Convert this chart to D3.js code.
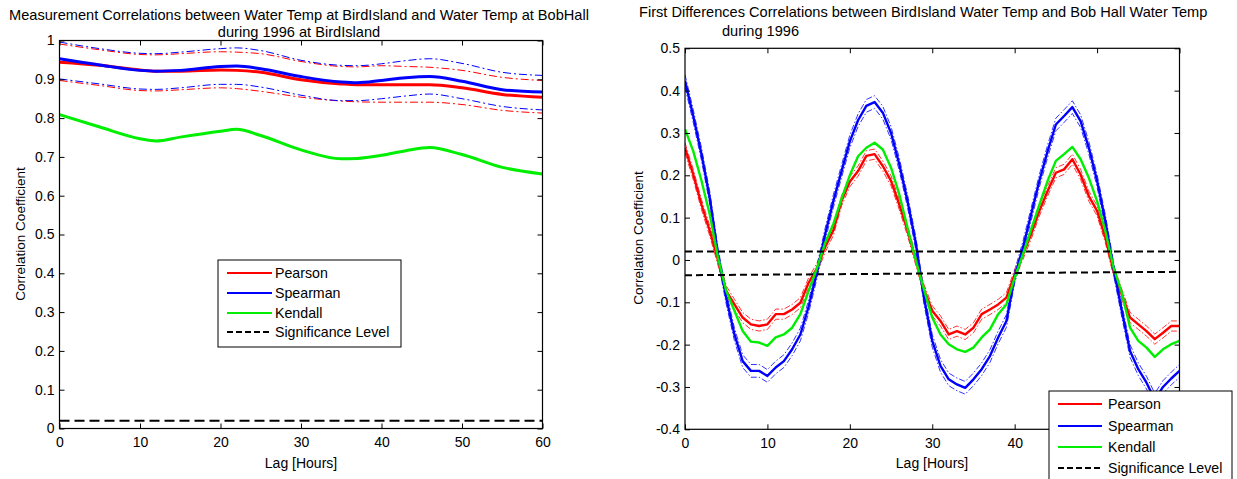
<!DOCTYPE html>
<html lang="en">
<head>
  <meta charset="UTF-8">
  <title>Water Temp Correlations</title>
  <script src="https://cdn.jsdelivr.net/npm/d3@7"></script>
  <style>
    body { margin: 0; background: #fff; }
    svg { display: block; font-family: "Liberation Sans", Arial, sans-serif; }
    .tick text { font-size: 14px; fill: #000; }
  </style>
</head>
<body>
<script>
  // ---- left panel: measurement correlations (smooth curves) ----
  const lagsL = [0, 5, 10, 12, 15, 20, 22, 25, 30, 35, 37, 40, 43, 46, 50, 55, 60];
  const pearsonL   = [0.944, 0.936, 0.924, 0.921, 0.921, 0.924, 0.923, 0.918, 0.899, 0.888, 0.886, 0.886, 0.886, 0.886, 0.878, 0.861, 0.854];
  const spearmanL  = [0.953, 0.937, 0.923, 0.921, 0.923, 0.933, 0.934, 0.927, 0.907, 0.893, 0.891, 0.897, 0.904, 0.907, 0.895, 0.873, 0.867];
  const kendallL   = [0.809, 0.777, 0.747, 0.741, 0.751, 0.766, 0.771, 0.755, 0.718, 0.695, 0.696, 0.704, 0.716, 0.724, 0.706, 0.673, 0.656];
  const pearsonUpL = [0.991, 0.976, 0.964, 0.963, 0.966, 0.971, 0.970, 0.966, 0.946, 0.933, 0.932, 0.935, 0.933, 0.931, 0.923, 0.905, 0.897];
  const pearsonLoL = [0.897, 0.884, 0.871, 0.870, 0.873, 0.878, 0.876, 0.869, 0.854, 0.844, 0.842, 0.841, 0.841, 0.841, 0.835, 0.820, 0.813];
  const spearmanUpL = [0.996, 0.979, 0.967, 0.966, 0.970, 0.979, 0.981, 0.974, 0.949, 0.936, 0.935, 0.940, 0.948, 0.953, 0.941, 0.918, 0.910];
  const spearmanLoL = [0.901, 0.888, 0.875, 0.874, 0.878, 0.887, 0.887, 0.880, 0.859, 0.845, 0.845, 0.850, 0.857, 0.862, 0.850, 0.830, 0.821];
  const sigLagsL = [0, 60];
  const sigL = [0.02, 0.02];

  // ---- right panel: first differences correlations (hourly) ----
  const lagsR = d3.range(0, 61);
  const pearsonR = [0.265, 0.202, 0.131, 0.069, 0.000, -0.073, -0.105, -0.136, -0.152, -0.156,
    -0.152, -0.128, -0.128, -0.117, -0.101, -0.054, -0.020, 0.030, 0.070, 0.140,
    0.185, 0.210, 0.246, 0.250, 0.222, 0.187, 0.131, 0.069, 0.000, -0.070,
    -0.120, -0.144, -0.176, -0.168, -0.176, -0.160, -0.128, -0.117, -0.105, -0.089,
    -0.034, 0.013, 0.061, 0.116, 0.163, 0.206, 0.214, 0.238, 0.202, 0.151,
    0.116, 0.053, -0.026, -0.081, -0.136, -0.152, -0.168, -0.187, -0.172, -0.156, -0.156];
  const spearmanR = [0.423, 0.340, 0.250, 0.147, 0.013, -0.089, -0.176, -0.239, -0.262, -0.262,
    -0.274, -0.254, -0.239, -0.211, -0.176, -0.110, -0.030, 0.060, 0.139, 0.210,
    0.280, 0.330, 0.364, 0.373, 0.348, 0.300, 0.226, 0.139, 0.040, -0.090,
    -0.191, -0.250, -0.282, -0.294, -0.302, -0.282, -0.258, -0.227, -0.183, -0.144,
    -0.040, 0.029, 0.108, 0.187, 0.257, 0.320, 0.340, 0.361, 0.328, 0.265,
    0.187, 0.092, -0.020, -0.120, -0.215, -0.258, -0.290, -0.330, -0.300, -0.280, -0.262];
  const kendallR = [0.309, 0.257, 0.187, 0.108, 0.006, -0.073, -0.120, -0.168, -0.193, -0.195,
    -0.203, -0.183, -0.176, -0.160, -0.128, -0.073, -0.020, 0.040, 0.085, 0.145,
    0.200, 0.245, 0.265, 0.277, 0.261, 0.218, 0.155, 0.076, 0.000, -0.070,
    -0.136, -0.176, -0.199, -0.211, -0.217, -0.207, -0.183, -0.164, -0.128, -0.105,
    -0.042, 0.013, 0.072, 0.131, 0.187, 0.234, 0.250, 0.267, 0.238, 0.194,
    0.139, 0.069, -0.018, -0.077, -0.160, -0.191, -0.207, -0.229, -0.211, -0.199, -0.191];
  // half width of the thin confidence lines around pearson / spearman
  const ciHalfR = [0.012, 0.015];
  const sigLagsR = [0, 60];
  const sigUpR = [0.02, 0.02];
  const sigLoR = [-0.036, -0.028];

  const xTicks = [0, 10, 20, 30, 40, 50, 60];
  const yTicksL = [0, 0.1, 0.2, 0.3, 0.4, 0.5, 0.6, 0.7, 0.8, 0.9, 1];
  const yTicksR = [-0.4, -0.3, -0.2, -0.1, 0, 0.1, 0.2, 0.3, 0.4, 0.5];
  const legendNames = ['Pearson', 'Spearman', 'Kendall', 'Significance Level'];

  const RED = '#ff0000', BLUE = '#0000ff', GREEN = '#00ee00';
  const fmt = d => String(Number(d.toFixed(1)));

  const svg = d3.select('body').append('svg')
    .attr('width', 1237)
    .attr('height', 479);

  function drawFrame(g, x, y, yTicks) {
    const [x0, x1] = x.range();
    const [y0, y1] = y.range();
    g.append('g').attr('transform', `translate(0,${y0})`)
      .call(d3.axisBottom(x).tickValues(xTicks).tickSizeInner(-5).tickSizeOuter(0).tickPadding(9))
      .call(a => a.select('.domain').remove());
    g.append('g').attr('transform', `translate(0,${y1})`)
      .call(d3.axisTop(x).tickValues(xTicks).tickSizeInner(-5).tickSizeOuter(0).tickFormat(''))
      .call(a => a.select('.domain').remove());
    g.append('g').attr('transform', `translate(${x0},0)`)
      .call(d3.axisLeft(y).tickValues(yTicks).tickSizeInner(-5).tickSizeOuter(0).tickPadding(5).tickFormat(fmt))
      .call(a => a.select('.domain').remove());
    g.append('g').attr('transform', `translate(${x1},0)`)
      .call(d3.axisRight(y).tickValues(yTicks).tickSizeInner(-5).tickSizeOuter(0).tickFormat(''))
      .call(a => a.select('.domain').remove());
    g.selectAll('.tick line').attr('stroke', '#000');
    g.append('rect')
      .attr('x', x0).attr('y', y1)
      .attr('width', x1 - x0).attr('height', y0 - y1)
      .attr('fill', 'none').attr('stroke', '#000').attr('stroke-width', 1.2);
  }

  function drawLine(g, x, y, lags, vals, color, width, dash, curve) {
    const line = d3.line()
      .x((d, i) => x(lags[i]))
      .y(d => y(d))
      .curve(curve || d3.curveLinear);
    g.append('path')
      .datum(vals)
      .attr('d', line)
      .attr('fill', 'none')
      .attr('stroke', color)
      .attr('stroke-width', width)
      .attr('stroke-dasharray', dash || null)
      .attr('stroke-linejoin', 'round');
  }

  function drawLegend(g, bx, by, bw, bh, rowY, lx0, lx1, tx) {
    g.append('rect').attr('x', bx).attr('y', by).attr('width', bw).attr('height', bh)
      .attr('fill', '#fff').attr('stroke', '#000').attr('stroke-width', 1);
    const colors = [RED, BLUE, GREEN, '#000'];
    legendNames.forEach((n, i) => {
      g.append('line').attr('x1', lx0).attr('x2', lx1).attr('y1', rowY[i]).attr('y2', rowY[i])
        .attr('stroke', colors[i]).attr('stroke-width', 2)
        .attr('stroke-dasharray', i === 3 ? '6,3' : null);
      g.append('text').attr('x', tx).attr('y', rowY[i]).attr('dy', '0.35em')
        .attr('font-size', 14.2).text(n);
    });
  }

  // ---------------- left panel ----------------
  const xL = d3.scaleLinear().domain([0, 60]).range([59.5, 542.5]);
  const yL = d3.scaleLinear().domain([0, 1]).range([428.5, 40.5]);
  const gL = svg.append('g');
  const smooth = d3.curveMonotoneX;
  const dashDot = '8,3,2,3';

  drawLine(gL, xL, yL, lagsL, pearsonUpL, RED, 1, dashDot, smooth);
  drawLine(gL, xL, yL, lagsL, pearsonLoL, RED, 1, dashDot, smooth);
  drawLine(gL, xL, yL, lagsL, spearmanUpL, BLUE, 1, dashDot, smooth);
  drawLine(gL, xL, yL, lagsL, spearmanLoL, BLUE, 1, dashDot, smooth);
  drawLine(gL, xL, yL, lagsL, pearsonL, RED, 3, null, smooth);
  drawLine(gL, xL, yL, lagsL, spearmanL, BLUE, 3, null, smooth);
  drawLine(gL, xL, yL, lagsL, kendallL, GREEN, 3, null, smooth);
  drawLine(gL, xL, yL, sigLagsL, sigL, '#000', 2, '10,5');
  drawFrame(gL, xL, yL, yTicksL);
  drawLegend(gL, 218, 260, 183, 87, [273, 293, 313, 332], 227, 272, 275);

  gL.append('text').attr('x', 299).attr('y', 20).attr('text-anchor', 'middle').attr('font-size', 14.6)
    .text('Measurement Correlations between Water Temp at BirdIsland and Water Temp at BobHall');
  gL.append('text').attr('x', 299).attr('y', 37).attr('text-anchor', 'middle').attr('font-size', 14.6)
    .text('during 1996 at BirdIsland');
  gL.append('text').attr('x', 301).attr('y', 468).attr('text-anchor', 'middle').attr('font-size', 14)
    .text('Lag [Hours]');
  gL.append('text').attr('transform', 'translate(25,234) rotate(-90)').attr('text-anchor', 'middle')
    .attr('font-size', 13.5).text('Correlation Coefficient');

  // ---------------- right panel ----------------
  const xR = d3.scaleLinear().domain([0, 60]).range([685, 1179.5]);
  const yR = d3.scaleLinear().domain([-0.4, 0.5]).range([429.3, 48.3]);
  const gR = svg.append('g');
  svg.append('clipPath').attr('id', 'clipR').append('rect')
    .attr('x', 685).attr('y', 48.3).attr('width', 494.5).attr('height', 381);
  const plotR = gR.append('g').attr('clip-path', 'url(#clipR)');
  const thinDash = '6,2,1.5,2';

  [[pearsonR, RED, ciHalfR[0]], [spearmanR, BLUE, ciHalfR[1]]].forEach(([vals, c, h]) => {
    drawLine(plotR, xR, yR, lagsR, vals.map(v => v + h), c, 0.8, thinDash);
    drawLine(plotR, xR, yR, lagsR, vals.map(v => v - h), c, 0.8, thinDash);
  });
  drawLine(plotR, xR, yR, lagsR, pearsonR, RED, 2.4);
  drawLine(plotR, xR, yR, lagsR, spearmanR, BLUE, 2.4);
  drawLine(plotR, xR, yR, lagsR, kendallR, GREEN, 2.4);
  drawLine(plotR, xR, yR, sigLagsR, sigUpR, '#000', 2, '7,4');
  drawLine(plotR, xR, yR, sigLagsR, sigLoR, '#000', 2, '7,4');
  drawFrame(gR, xR, yR, yTicksR);
  drawLegend(gR, 1049, 391, 183, 100, [404, 426, 447, 468], 1058, 1102, 1108);

  gR.append('text').attr('x', 639).attr('y', 17).attr('font-size', 14.6)
    .text('First Differences Correlations between BirdIsland Water Temp and Bob Hall Water Temp');
  gR.append('text').attr('x', 722).attr('y', 36).attr('font-size', 14.6)
    .text('during 1996');
  gR.append('text').attr('x', 932).attr('y', 468).attr('text-anchor', 'middle').attr('font-size', 14)
    .text('Lag [Hours]');
  gR.append('text').attr('transform', 'translate(643,238) rotate(-90)').attr('text-anchor', 'middle')
    .attr('font-size', 13.5).text('Correlation Coefficient');
</script>
</body>
</html>
